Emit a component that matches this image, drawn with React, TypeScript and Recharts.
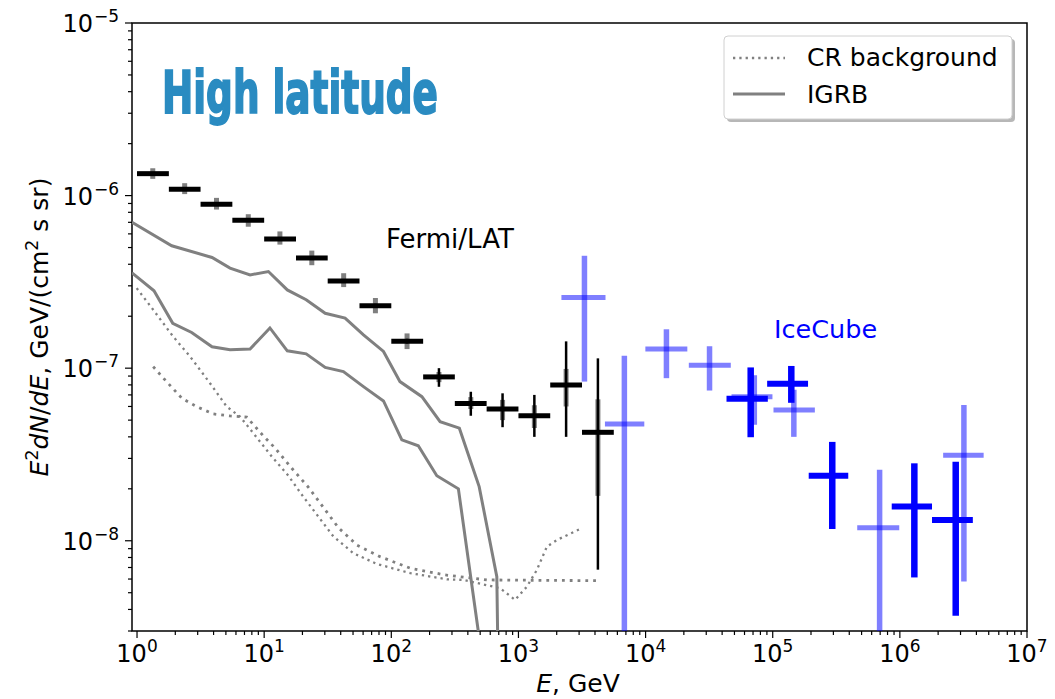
import React from 'react';
import { ComposedChart, Line, XAxis, YAxis, ReferenceArea } from 'recharts';

// ---------- data ----------
// Fermi/LAT (black crosses)
const fermiE = [1.33, 2.37, 4.22, 7.5, 13.3, 23.7, 42.2, 75, 133, 237, 422, 750, 1334, 2371, 4217];
const fermiELo = [1, 1.78, 3.16, 5.62, 10, 17.8, 31.6, 56.2, 100, 178, 316, 562, 1000, 1778, 3162];
const fermiEHi = [1.78, 3.16, 5.62, 10, 17.8, 31.6, 56.2, 100, 178, 316, 562, 1000, 1778, 3162, 5623];
const fermiF = [1.34e-6, 1.09e-6, 8.9e-7, 7.2e-7, 5.6e-7, 4.35e-7, 3.2e-7, 2.3e-7, 1.43e-7, 8.9e-8, 6.25e-8, 5.8e-8, 5.3e-8, 8.0e-8, 4.25e-8];
const fermiSysLo = [1.25e-6, 1.02e-6, 8.3e-7, 6.6e-7, 5.2e-7, 3.95e-7, 2.95e-7, 2.08e-7, 1.29e-7, 8.3e-8, 5.8e-8, 5.0e-8, 4.5e-8, 6.0e-8, 1.82e-8];
const fermiSysHi = [1.44e-6, 1.18e-6, 9.7e-7, 7.8e-7, 6.2e-7, 4.8e-7, 3.55e-7, 2.55e-7, 1.59e-7, 9.5e-8, 6.8e-8, 6.55e-8, 6.1e-8, 9.9e-8, 6.6e-8];
const fermiStatLo = [1.32e-6, 1.07e-6, 8.75e-7, 7.05e-7, 5.5e-7, 4.27e-7, 3.14e-7, 2.25e-7, 1.39e-7, 7.8e-8, 5.3e-8, 4.55e-8, 4.0e-8, 4.0e-8, 6.8e-9];
const fermiStatHi = [1.36e-6, 1.11e-6, 9.05e-7, 7.35e-7, 5.7e-7, 4.43e-7, 3.27e-7, 2.36e-7, 1.48e-7, 1.0e-7, 7.3e-8, 7.15e-8, 7.0e-8, 1.43e-7, 1.14e-7];

// IceCube, faint points
const icLightE = [3305, 6810, 14590, 31840, 71650, 146600, 693000, 3.19e6];
const icLightELo = [2178, 4790, 9960, 21880, 47400, 101400, 462000, 2.19e6];
const icLightEHi = [4839, 9770, 21300, 46800, 99500, 214500, 989000, 4.56e6];
const icLightF = [2.57e-7, 4.75e-8, 1.29e-7, 1.04e-7, 6.84e-8, 5.73e-8, 1.19e-8, 3.13e-8];
const icLightFLo = [8.36e-8, 1e-9, 8.75e-8, 7.42e-8, 4.7e-8, 4.0e-8, 1e-9, 5.8e-9];
const icLightFHi = [4.48e-7, 1.18e-7, 1.68e-7, 1.34e-7, 9.1e-8, 7.5e-8, 2.58e-8, 6.12e-8];

// IceCube, solid points
const icDarkE = [67100, 140000, 294000, 1.30e6, 2.75e6];
const icDarkELo = [43300, 90400, 191900, 863000, 1.79e6];
const icDarkEHi = [91500, 189600, 392700, 1.79e6, 3.75e6];
const icDarkF = [6.64e-8, 8.11e-8, 2.38e-8, 1.58e-8, 1.32e-8];
const icDarkFLo = [3.98e-8, 6.3e-8, 1.17e-8, 6.13e-9, 3.68e-9];
const icDarkFHi = [1.01e-7, 1.03e-7, 3.74e-8, 2.81e-8, 2.87e-8];

// IGRB (two solid grey curves)
const igrbUpperE = [0.913, 1.875, 3.89, 5.39, 7.75, 10.8, 15.2, 21.4, 30.2, 43.3, 60.4, 86.8, 117, 174, 242, 343, 491, 676, 700];
const igrbUpperF = [7.0e-7, 5.12e-7, 4.38e-7, 3.8e-7, 3.47e-7, 3.63e-7, 2.84e-7, 2.49e-7, 2.08e-7, 1.95e-7, 1.56e-7, 1.25e-7, 8.36e-8, 6.84e-8, 4.9e-8, 4.49e-8, 2.06e-8, 6.19e-9, 1e-9];
const igrbLowerE = [0.913, 1.36, 1.91, 2.69, 3.89, 5.39, 7.75, 11.1, 15.2, 21.4, 30.2, 42.0, 60.4, 86.8, 121, 163, 228, 337, 500];
const igrbLowerF = [3.57e-7, 2.81e-7, 1.82e-7, 1.61e-7, 1.33e-7, 1.28e-7, 1.29e-7, 1.71e-7, 1.26e-7, 1.21e-7, 1.01e-7, 9.55e-8, 7.82e-8, 6.46e-8, 3.84e-8, 3.55e-8, 2.38e-8, 2.0e-8, 2.5e-9];

// CR background (two dotted grey curves)
const cr1E = [0.994, 1.34, 1.93, 2.61, 3.75, 5.08, 6.46, 8.22, 11.5, 15.5, 20.3, 26.7, 35.0, 50.3, 76.9, 141, 273, 369, 718, 942, 1164, 1396, 1673, 2005, 3055];
const cr1F = [2.91e-7, 2.18e-7, 1.52e-7, 1.17e-7, 8.18e-8, 5.98e-8, 5.24e-8, 4.2e-8, 3.07e-8, 2.38e-8, 1.8e-8, 1.38e-8, 1.06e-8, 8.47e-9, 7.34e-9, 6.49e-9, 5.98e-9, 5.93e-9, 5.31e-9, 4.54e-9, 5.42e-9, 6.77e-9, 9.24e-9, 1.01e-8, 1.17e-8];
const cr2E = [1.34, 1.66, 2.25, 2.95, 3.98, 5.39, 7.3, 9.86, 12.2, 16.5, 22.3, 29.2, 38.4, 53.5, 81.6, 141, 265, 564, 4140];
const cr2F = [1.02e-7, 8.55e-8, 6.7e-8, 5.98e-8, 5.43e-8, 5.29e-8, 5.2e-8, 4.05e-8, 3.44e-8, 2.63e-8, 2.04e-8, 1.56e-8, 1.19e-8, 9.46e-9, 8.09e-9, 6.93e-9, 6.34e-9, 5.93e-9, 5.87e-9];

// axes
const xDomain = [0.913, 1e7];
const yDomain = [3e-9, 1e-5];
const xMajorExp = [0, 1, 2, 3, 4, 5, 6, 7];
const yMajorExp = [-8, -7, -6, -5];

// ---------- helpers ----------
const buildTicks = (exps: number[], lo: number, hi: number) => {
  const out: number[] = [];
  const e0 = Math.min(...exps) - 1;
  const e1 = Math.max(...exps);
  for (let e = e0; e <= e1; e++) {
    for (let m = 1; m <= 9; m++) {
      const v = m * Math.pow(10, e);
      if (v >= lo * 0.9999 && v <= hi * 1.0001) out.push(v);
    }
  }
  return out;
};
const xTicks = buildTicks(xMajorExp, xDomain[0], xDomain[1]);
const yTicks = buildTicks(yMajorExp, yDomain[0], yDomain[1]);

const isMajor = (v: number) => {
  const l = Math.log10(v);
  return Math.abs(l - Math.round(l)) < 1e-6;
};
const expLabel = (v: number) => {
  const n = Math.round(Math.log10(v));
  return n < 0 ? '\u2212' + Math.abs(n) : String(n);
};

const FONT = "'DejaVu Sans', Verdana, sans-serif";
const TICK_FS = 24;
const SUP_FS = 17;

const XTick = (props: any) => {
  const { x, y, payload } = props;
  const v = payload.value;
  const major = isMajor(v);
  return (
    <g>
      <line x1={x} x2={x} y1={y} y2={y + (major ? 7 : 4)} stroke="#000" strokeWidth={1.2} />
      {major && (
        <text x={x} y={y + 31} textAnchor="middle" fontFamily={FONT} fontSize={TICK_FS} fill="#000">
          10<tspan dy={-10} fontSize={SUP_FS}>{expLabel(v)}</tspan>
        </text>
      )}
    </g>
  );
};

const YTick = (props: any) => {
  const { x, y, payload } = props;
  const v = payload.value;
  const major = isMajor(v);
  return (
    <g>
      <line x1={x} x2={x - (major ? 7 : 4)} y1={y} y2={y} stroke="#000" strokeWidth={1.2} />
      {major && (
        <text x={x - 13} y={y + 9} textAnchor="end" fontFamily={FONT} fontSize={TICK_FS} fill="#000">
          10<tspan dy={-10} dx={1} fontSize={SUP_FS}>{expLabel(v)}</tspan>
        </text>
      )}
    </g>
  );
};

type Seg = { key: string; pts: { x: number; y: number }[]; stroke: string; width: number; opacity: number; dash?: string };

const segs: Seg[] = [];
const pair = (x1: number, y1: number, x2: number, y2: number) => [{ x: x1, y: y1 }, { x: x2, y: y2 }];

// Fermi crosses
fermiE.forEach((e, i) => {
  segs.push({ key: 'fs' + i, pts: pair(e, fermiSysLo[i], e, fermiSysHi[i]), stroke: '#000', width: 5, opacity: 0.5 });
  segs.push({ key: 'fh' + i, pts: pair(fermiELo[i], fermiF[i], fermiEHi[i], fermiF[i]), stroke: '#000', width: 5, opacity: 1 });
  segs.push({ key: 'ft' + i, pts: pair(e, fermiStatLo[i], e, fermiStatHi[i]), stroke: '#000', width: 2.5, opacity: 1 });
});
// IceCube faint
icLightE.forEach((e, i) => {
  segs.push({ key: 'lh' + i, pts: pair(icLightELo[i], icLightF[i], icLightEHi[i], icLightF[i]), stroke: '#0000ff', width: 5, opacity: 0.5 });
  segs.push({ key: 'lv' + i, pts: pair(e, icLightFLo[i], e, icLightFHi[i]), stroke: '#0000ff', width: 5.5, opacity: 0.5 });
});
// IceCube solid
icDarkE.forEach((e, i) => {
  segs.push({ key: 'dh' + i, pts: pair(icDarkELo[i], icDarkF[i], icDarkEHi[i], icDarkF[i]), stroke: '#0000ff', width: 6, opacity: 1 });
  segs.push({ key: 'dv' + i, pts: pair(e, icDarkFLo[i], e, icDarkFHi[i]), stroke: '#0000ff', width: 6.5, opacity: 1 });
});

const toPts = (xs: number[], ys: number[]) => xs.map((x, i) => ({ x, y: ys[i] }));

const curves: Seg[] = [
  { key: 'cr1', pts: toPts(cr1E, cr1F), stroke: '#808080', width: 2.3, opacity: 1, dash: '2.3 4' },
  { key: 'cr2', pts: toPts(cr2E, cr2F), stroke: '#808080', width: 2.8, opacity: 1, dash: '2.8 5' },
  { key: 'igrbU', pts: toPts(igrbUpperE, igrbUpperF), stroke: '#808080', width: 3, opacity: 1 },
  { key: 'igrbL', pts: toPts(igrbLowerE, igrbLowerF), stroke: '#808080', width: 3, opacity: 1 },
];

const W = 1055;
const H = 699;

export default function App() {
  return (
    <div style={{ position: 'relative', width: W, height: H, margin: '-8px 0 0 -8px', fontFamily: FONT }}>
      <ComposedChart width={W} height={H} margin={{ top: 23, right: 28, left: 0, bottom: 28 }}>
        <XAxis
          type="number"
          dataKey="x"
          scale="log"
          domain={xDomain}
          allowDataOverflow
          ticks={xTicks}
          interval={0}
          tick={<XTick />}
          tickLine={false}
          tickSize={0}
          tickMargin={0}
          axisLine={false}
          height={40}
        />
        <YAxis
          type="number"
          dataKey="y"
          scale="log"
          domain={yDomain}
          allowDataOverflow
          ticks={yTicks}
          interval={0}
          tick={<YTick />}
          tickLine={false}
          tickSize={0}
          tickMargin={0}
          axisLine={false}
          width={132}
        />
        {curves.map((s) => (
          <Line
            key={s.key}
            data={s.pts}
            dataKey="y"
            type="linear"
            stroke={s.stroke}
            strokeWidth={s.width}
            strokeOpacity={s.opacity}
            strokeDasharray={s.dash}
            strokeLinecap="butt"
            dot={false}
            activeDot={false}
            legendType="none"
            isAnimationActive={false}
          />
        ))}
        {segs.map((s) => (
          <Line
            key={s.key}
            data={s.pts}
            dataKey="y"
            type="linear"
            stroke={s.stroke}
            strokeWidth={s.width}
            strokeOpacity={s.opacity}
            strokeLinecap="butt"
            dot={false}
            activeDot={false}
            legendType="none"
            isAnimationActive={false}
          />
        ))}
        <ReferenceArea
          x1={xDomain[0]}
          x2={xDomain[1]}
          y1={yDomain[0]}
          y2={yDomain[1]}
          fill="none"
          fillOpacity={0}
          stroke="#000"
          strokeWidth={1.5}
          ifOverflow="visible"
        />
      </ComposedChart>
      <svg
        width={W}
        height={H}
        style={{ position: 'absolute', left: 0, top: 0, pointerEvents: 'none', overflow: 'visible' }}
      >
        <text
          x={162}
          y={113}
          fontFamily="'DejaVu Sans Condensed', 'Liberation Sans Narrow', 'DejaVu Sans', sans-serif"
          fontWeight="bold"
          fontSize={58}
          fill="#2a8bc1"
          stroke="#2a8bc1"
          strokeWidth={1.8}
          textLength={276}
          lengthAdjust="spacingAndGlyphs"
        >
          High latitude
        </text>
        <text x={386} y={248} fontFamily={FONT} fontSize={26} fill="#000">Fermi/LAT</text>
        <text x={774} y={338} fontFamily={FONT} fontSize={25.5} fill="#0000ff">IceCube</text>

        {/* y label */}
        <text transform="rotate(-90 48 327)" x={48} y={327} textAnchor="middle" fontFamily={FONT} fontSize={25} fill="#000">
          <tspan fontStyle="italic">E</tspan>
          <tspan dy={-10} fontSize={17.5}>2</tspan>
          <tspan dy={10} fontStyle="italic">dN</tspan>
          <tspan>/</tspan>
          <tspan fontStyle="italic">dE</tspan>
          <tspan>, GeV/(cm</tspan>
          <tspan dy={-10} fontSize={17.5}>2</tspan>
          <tspan dy={10}> s sr)</tspan>
        </text>
        {/* x label */}
        <text x={578} y={692} textAnchor="middle" fontFamily={FONT} fontSize={25} fill="#000">
          <tspan fontStyle="italic">E</tspan>, GeV
        </text>

        {/* legend */}
        <rect x={727} y={39} width={288} height={83} rx={4} fill="#999" opacity={0.7} />
        <rect x={724} y={36} width={288} height={83} rx={4} fill="#fff" stroke="#d0d0d0" strokeWidth={1} />
        <line x1={733} x2={785} y1={58} y2={58} stroke="#808080" strokeWidth={2.3} strokeDasharray="2.3 4" />
        <line x1={733} x2={785} y1={94} y2={94} stroke="#808080" strokeWidth={3} />
        <text x={807} y={66} fontFamily={FONT} fontSize={25} fill="#000">CR background</text>
        <text x={807} y={103} fontFamily={FONT} fontSize={25} fill="#000">IGRB</text>
      </svg>
    </div>
  );
}
